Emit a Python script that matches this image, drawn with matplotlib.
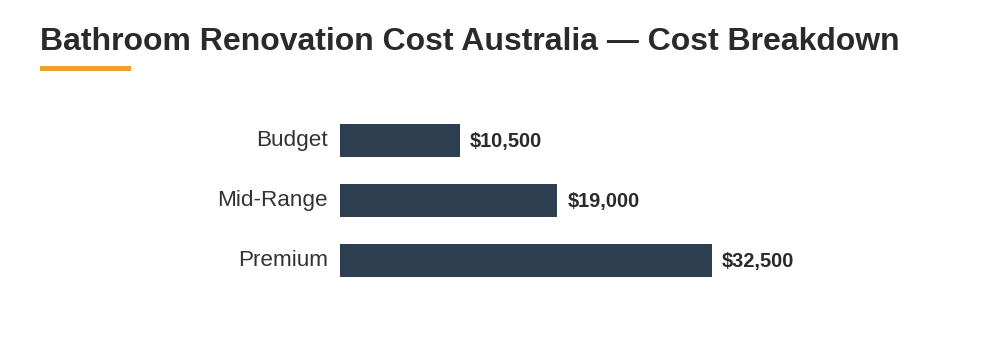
import matplotlib
matplotlib.use("Agg")
import matplotlib.pyplot as plt
from matplotlib.patches import Rectangle

plt.rcParams['font.family'] = ['Liberation Sans', 'DejaVu Sans']

title = "Bathroom Renovation Cost Australia \u2014 Cost Breakdown"
categories = ["Budget", "Mid-Range", "Premium"]
costs = [10500, 19000, 32500]
value_labels = ["$10,500", "$19,000", "$32,500"]

W, H = 1000, 340
fig = plt.figure(figsize=(W / 100, H / 100), dpi=100)
fig.patch.set_facecolor("white")

fig.text(40 / W, 1 - 50 / H, title, fontsize=23.05, fontweight="bold",
         color="#2a2a2a", va="baseline", ha="left")
fig.add_artist(Rectangle((40 / W, 1 - 70.5 / H), 91 / W, 4.5 / H,
                         transform=fig.transFigure, color="#EE9F2C", lw=0))

ax = fig.add_axes([340 / W, 1 - 290 / H, 620 / W, 180 / H])
ypos = list(range(len(categories)))
ax.barh(ypos, costs, height=0.55, color="#2C3E50", zorder=2)
ax.set_xlim(0, max(costs) * 620 / 372)
ax.set_ylim(len(categories) - 0.5, -0.5)
ax.set_yticks([])
ax.set_xticks([])
for s in ax.spines.values():
    s.set_visible(False)

for y, cat in zip(ypos, categories):
    ax.annotate(cat, (0, y), xytext=(-12, 2), textcoords="offset pixels",
                va="center_baseline", ha="right", fontsize=16.2, color="#333333")

for y, v, lab in zip(ypos, costs, value_labels):
    ax.annotate(lab, (v, y), xytext=(10, 1), textcoords="offset pixels",
                va="center_baseline", ha="left", fontsize=14.4, fontweight="bold",
                color="#2a2a2a")

fig.savefig("out.png", dpi=100, facecolor="white")
